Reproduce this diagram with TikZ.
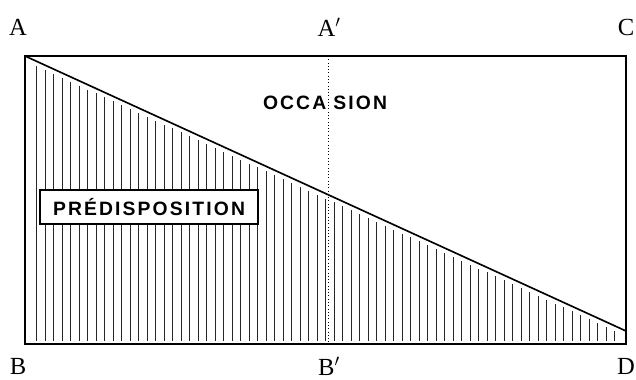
\documentclass[tikz,border=0pt]{standalone}
\usepackage{fontspec}
\setmainfont{Liberation Serif}
\newfontfamily\capsfont[LetterSpace=11]{Liberation Sans}

\tikzset{
  corner/.style={font=\fontsize{21}{21}\selectfont},
  caption/.style={font=\capsfont\bfseries\fontsize{16.5}{17}\selectfont,inner sep=0pt},
  hatch/.style={line width=0.75pt,black!85}
}

\begin{document}
\begin{tikzpicture}[x=0.03cm,y=-0.03cm,thick]
        \useasboundingbox (0,0) rectangle (636,379);
        % Corners of the frame
        \coordinate (a) at (25,56);
        \coordinate (c) at (626,56);
        \coordinate (b) at (25,344);
        \coordinate (d) at (626,344);
        \coordinate (e) at (626,331);
        \coordinate (ap) at (328,56);
        \coordinate (bp) at (328,344);

        % Hatching under the diagonal
        \foreach \x in {36.5,45,...,620}{
          \pgfmathsetmacro{\ytop}{56+(\x-25)/601*275+5}
          \draw[hatch] (\x,341) -- (\x,\ytop);
        }

        % Nodes
        \node[corner] (lblA) at (18,27) {A};
        \node[corner] (lblAp) at (329,27) {A$'$};
        \node[corner] (lblC) at (626,27) {C};
        \node[corner] (lblB) at (18,366) {B};
        \node[corner] (lblBp) at (329,366) {B$'$};
        \node[corner] (lblD) at (626,366) {D};
        \node[caption] (occ) at (325,103) {OCCA\hspace{6pt}SION};
        \node[caption,draw,fill=white,line width=1pt,minimum width=6.54cm,
              minimum height=1.02cm] (pred) at (149,207) {PRÉDISPOSITION};

        % Connections
        \draw[line width=1.4pt] (a) -- (c) -- (d) -- (b) -- cycle;
        \draw[line width=1.4pt] (a) -- (e);
        \draw[dotted,line width=0.8pt] (ap) -- (bp);
    \end{tikzpicture}
\end{document}
